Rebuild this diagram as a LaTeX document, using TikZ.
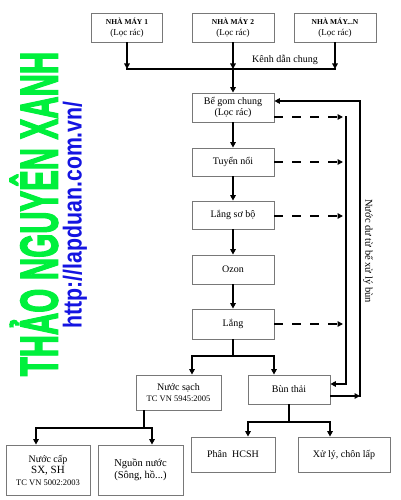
\documentclass[tikz,border=0pt]{standalone}
\usepackage{fontspec}
\usepackage{graphicx}
\setmainfont{Liberation Serif}
\newfontfamily\wmfont{Liberation Sans}
\newfontfamily\wmheavy[FakeBold=3]{Liberation Sans Bold}
\usetikzlibrary{arrows.meta}
\definecolor{wmgreen}{RGB}{0,240,60}
\definecolor{wmblue}{RGB}{20,20,225}
\definecolor{boxgray}{RGB}{120,120,120}
\tikzset{
  box/.style={draw=boxgray, line width=0.8pt, fill=white, align=center, inner sep=1pt, font=\fontsize{10}{11.5}\selectfont},
  arr/.style={line width=1.7pt, -{Triangle[length=5.5pt,width=5.5pt]}},
  bus/.style={line width=1.7pt},
  darr/.style={line width=1.7pt, dash pattern=on 9pt off 9pt, -{Triangle[length=5.5pt,width=5.5pt]}},
  lbl/.style={font=\fontsize{10}{12}\selectfont, inner sep=0pt}
}
\begin{document}
\begin{tikzpicture}[x=1pt,y=-1pt]
\useasboundingbox (0,0) rectangle (400,500);
% watermark
\node[rotate=90, text=wmgreen, inner sep=0pt] (wm1) at (34,214) {\scalebox{0.583}[1]{\wmheavy\fontsize{53}{60}\selectfont THẢO NGUYÊN XANH}};
\node[rotate=90, text=wmblue, inner sep=0pt] (wm2) at (75,215) {\scalebox{0.82}[1]{\wmfont\bfseries\fontsize{26}{30}\selectfont http://lapduan.com.vn/}};
% boxes
\node[box, minimum width=71pt, minimum height=29pt] (n1) at (127,27.5) {{\bfseries\fontsize{7.5}{9}\selectfont NHÀ MÁY 1}\\{\fontsize{9}{10.5}\selectfont (Lọc rác)}};
\node[box, minimum width=82pt, minimum height=29pt] (n2) at (233,27.5) {{\bfseries\fontsize{7.5}{9}\selectfont NHÀ MÁY 2}\\{\fontsize{9}{10.5}\selectfont (Lọc rác)}};
\node[box, minimum width=82pt, minimum height=29pt] (nN) at (335,27.5) {{\bfseries\fontsize{7.5}{9}\selectfont NHÀ MÁY...N}\\{\fontsize{9}{10.5}\selectfont (Lọc rác)}};
\node[box, minimum width=82pt, minimum height=29pt] (bgom) at (233,107.5) {Bể gom chung\\(Lọc rác)};
\node[box, minimum width=82pt, minimum height=28pt] (tuyen) at (233,162) {Tuyển nổi};
\node[box, minimum width=82pt, minimum height=28pt] (lsb) at (233,215) {Lắng sơ bộ};
\node[box, minimum width=82pt, minimum height=29pt] (ozon) at (233,269.5) {Ozon};
\node[box, minimum width=82pt, minimum height=30pt] (lang) at (233,324) {Lắng};
\node[box, minimum width=85pt, minimum height=35pt] (sach) at (178.5,392.5) {Nước sạch\\{\fontsize{8.5}{10}\selectfont TC VN 5945:2005}};
\node[box, minimum width=82pt, minimum height=29pt] (bun) at (289,389.5) {Bùn thải};
\node[box, minimum width=84pt, minimum height=50pt] (cap) at (48,470) {Nước cấp\\{\fontsize{11}{12}\selectfont SX, SH}\\{\fontsize{8.5}{10}\selectfont TC VN 5002:2003}};
\node[box, minimum width=85pt, minimum height=50pt] (nguon) at (140.5,470) {{\fontsize{10.5}{12.5}\selectfont Nguồn nước}\\{\fontsize{10.5}{12.5}\selectfont (Sông, hồ...)}};
\node[box, minimum width=84pt, minimum height=35pt] (phan) at (233,454.5) {Phân\ \ HCSH};
\node[box, minimum width=92pt, minimum height=35pt] (xuly) at (344,454.5) {Xử lý, chôn lấp};
% top collector
\coordinate (kL) at (127,69);
\coordinate (kM) at (233,69);
\coordinate (kR) at (335,69);
\draw[bus] ([xshift=-0.85pt]kL) -- ([xshift=0.85pt]kR);
\draw[arr] (n1.south) -- (kL);
\draw[arr] (n2.south) -- (kM);
\draw[arr] (nN.south) -- (kR);
\draw[arr] (kM) -- (bgom.north);
\node[lbl] (kenh) at (285,60) {Kênh dẫn chung};
% main chain
\draw[arr] (bgom) -- (tuyen);
\draw[arr] (tuyen) -- (lsb);
\draw[arr] (lsb) -- (ozon);
\draw[arr] (ozon) -- (lang);
% dashed outputs
\coordinate (d1) at (343,117);
\coordinate (d2) at (343,162);
\coordinate (d3) at (343,216);
\coordinate (d4) at (343,324);
\draw[darr] (bgom.east |- d1) -- (d1);
\draw[darr] (tuyen.east |- d2) -- (d2);
\draw[darr] (lsb.east |- d3) -- (d3);
\draw[darr] (lang.east |- d4) -- (d4);
% inner return to sludge
\coordinate (v1) at (346,116.2);
\coordinate (v2) at (346,384);
\draw[arr, line join=miter] (v1) -- (v2) -- (bun.east |- v2);
% outer return
\coordinate (o1) at (360,396);
\coordinate (o2) at (360,101);
\draw[arr] (bun.east |- o1) -- (o1);
\draw[arr, line join=miter] ([yshift=-0.85pt]o1) -- (o2) -- (bgom.east |- o2);
\node[lbl, rotate=-90] (nuocdu) at (368,251) {\fontsize{10.5}{12}\selectfont Nước dư từ bể xử lý bùn};
% split after Lang
\coordinate (s0) at (233,356);
\coordinate (s1) at (192,356);
\coordinate (s2) at (274,356);
\draw[bus] (lang.south) -- (s0);
\draw[arr, line join=miter] (s0) -- (s1) -- (s1 |- sach.north);
\draw[arr, line join=miter] (s0) -- (s2) -- (s2 |- bun.north);
% split after Nuoc sach
\coordinate (c0) at (144,428);
\coordinate (c1) at (36,428);
\coordinate (c2) at (152,428);
\draw[bus] (sach.south -| c0) -- (c0);
\draw[arr, line join=miter] (c0) -- (c1) -- (c1 |- cap.north);
\draw[arr, line join=miter] (c0) -- (c2) -- (c2 |- nguon.north);
% split after Bun thai
\coordinate (b0) at (289,422);
\coordinate (b1) at (248,422);
\coordinate (b2) at (330,422);
\draw[bus] (bun.south) -- (b0);
\draw[arr, line join=miter] (b0) -- (b1) -- (b1 |- phan.north);
\draw[arr, line join=miter] (b0) -- (b2) -- (b2 |- xuly.north);
\end{tikzpicture}
\end{document}
